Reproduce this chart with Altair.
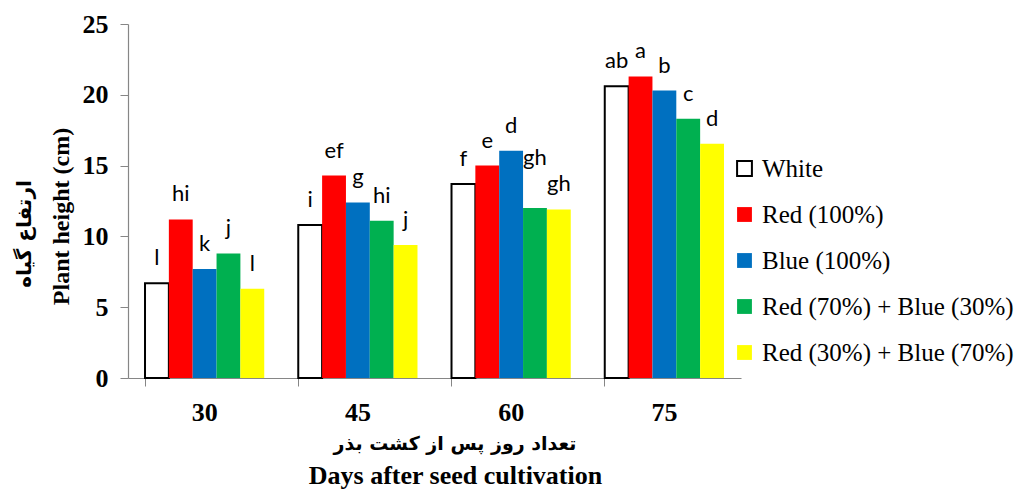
import altair as alt
import pandas as pd

days = ["30", "45", "60", "75"]
series = ["White", "Red (100%)", "Blue (100%)", "Red (70%) + Blue (30%)", "Red (30%) + Blue (70%)"]
colors = ["#FFFFFF", "#FF0000", "#0070C0", "#00B050", "#FFFF00"]
strokes = ["#000000", "transparent", "transparent", "transparent", "transparent"]

white = [6.7, 10.8, 13.7, 20.6]
red100 = [11.2, 14.3, 15.0, 21.3]
blue100 = [7.7, 12.4, 16.05, 20.3]
red70blue30 = [8.8, 11.1, 12.0, 18.3]
red30blue70 = [6.3, 9.4, 11.9, 16.55]

letters_white = ["l", "i", "f", "ab"]
letters_red100 = ["hi", "ef", "e", "a"]
letters_blue100 = ["k", "g", "d", "b"]
letters_red70 = ["j", "hi", "gh", "c"]
letters_red30 = ["l", "j", "gh", "d"]

x_title_en = "Days after seed cultivation"
x_title_fa = "تعداد روز پس از کشت بذر"
y_title_en = "Plant height (cm)"
y_title_fa = "ارتفاع گیاه"

values = [white, red100, blue100, red70blue30, red30blue70]
letters = [letters_white, letters_red100, letters_blue100, letters_red70, letters_red30]

rows = []
for s, vals, lets in zip(series, values, letters):
    for d, v, l in zip(days, vals, lets):
        rows.append({"day": d, "series": s, "value": v, "letter": l})
df = pd.DataFrame(rows)

# lift a letter label one line when it would collide with its right-hand neighbour
order = {s: i for i, s in enumerate(series)}
df["rank"] = df["series"].map(order)
df = df.sort_values(["day", "rank"]).reset_index(drop=True)
lift = []
for i, r in df.iterrows():
    up = False
    if i + 1 < len(df) and df.loc[i + 1, "day"] == r["day"]:
        nxt = df.loc[i + 1]
        if abs(nxt["value"] - r["value"]) < 0.5 and len(r["letter"]) + len(nxt["letter"]) >= 4:
            up = True
    lift.append(1.8 if up else 0.0)
df["label_pos"] = df["value"] + pd.Series(lift)

x_enc = alt.X(
    "day:N", sort=days,
    scale=alt.Scale(paddingInner=0.222, paddingOuter=0.111),
    axis=alt.Axis(
        title=x_title_en,
        labelAngle=0, bandPosition=0, tickSize=8, labelPadding=13,
        titleX=327, titleY=97, titleBaseline="middle", titleAlign="center",
        titleFontSize=26,
    ),
)
xoff_enc = alt.XOffset("series:N", sort=series,
                       scale=alt.Scale(domain=series, paddingInner=0, paddingOuter=0))
y_enc = alt.Y(
    "value:Q",
    scale=alt.Scale(domain=[0, 25], nice=False),
    axis=alt.Axis(
        title=y_title_en,
        values=[0, 5, 10, 15, 20, 25], grid=False, tickSize=8,
        labelPadding=12, titleX=-67, titleY=192, titleBaseline="middle",
        titleAlign="center", titleAngle=270, titleFontSize=24,
    ),
)

legend = alt.Legend(title=None, orient="none", legendX=604, legendY=132)

bars = alt.Chart(df).mark_bar(strokeWidth=2).encode(
    x=x_enc,
    xOffset=xoff_enc,
    y=y_enc,
    fill=alt.Fill("series:N", sort=series,
                  scale=alt.Scale(domain=series, range=colors), legend=legend),
    stroke=alt.Stroke("series:N", sort=series,
                      scale=alt.Scale(domain=series, range=strokes), legend=legend),
)

labels = alt.Chart(df).mark_text(
    dy=-25, baseline="middle", align="center", fontSize=22, font="Lato", color="black"
).encode(
    x=alt.X("day:N", sort=days),
    xOffset=alt.XOffset("series:N", sort=series),
    y=alt.Y("label_pos:Q"),
    text="letter:N",
)

fa_y = alt.Chart(pd.DataFrame({"t": [y_title_fa]})).mark_text(
    angle=270, fontSize=20, fontWeight="bold", font="DejaVu Sans", color="black",
    baseline="middle", align="center",
).encode(x=alt.value(-103), y=alt.value(210), text="t:N")

fa_x = alt.Chart(pd.DataFrame({"t": [x_title_fa]})).mark_text(
    fontSize=19, fontWeight="bold", font="DejaVu Sans", color="black",
    baseline="middle", align="center",
).encode(x=alt.value(327), y=alt.value(420), text="t:N")

chart = alt.layer(bars, labels, fa_y, fa_x).properties(
    width=613, height=354,
    autosize=alt.AutoSizeParams(type="none"),
    padding={"left": 120, "top": 16, "right": 283, "bottom": 114},
).configure_view(stroke=None).configure_axis(
    domainColor="#868686", tickColor="#868686", domainWidth=1.2,
    labelFont="Liberation Serif", labelFontWeight="bold", labelFontSize=26, labelColor="black",
    titleFont="Liberation Serif", titleFontWeight="bold", titleColor="black",
).configure_legend(
    symbolType="square", symbolSize=220, symbolStrokeWidth=2,
    labelFont="Liberation Serif", labelFontSize=25, labelColor="black",
    labelOffset=5, rowPadding=20, labelLimit=400,
)

chart.save("out.html", embed_options={"renderer": "svg", "actions": False})
